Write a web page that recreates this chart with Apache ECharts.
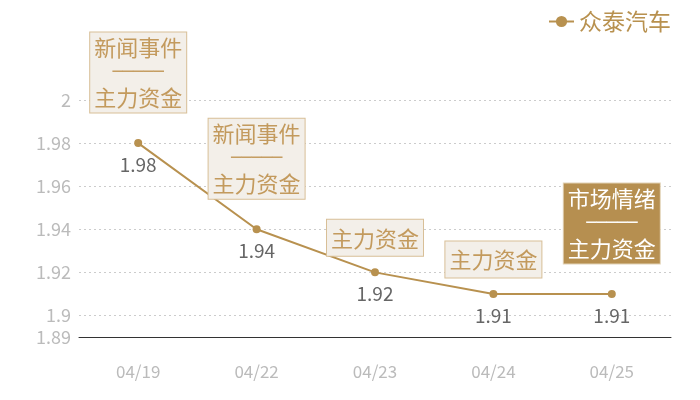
<!DOCTYPE html>
<html>
<head>
<meta charset="utf-8">
<script src="https://cdn.jsdelivr.net/npm/echarts@6/dist/echarts.min.js"></script>
<style>
  html, body { margin: 0; padding: 0; background: #fff; }
  #chart { width: 700px; height: 400px; }
</style>
</head>
<body>
<div id="chart"></div>
<script>
// data
var seriesName = '众泰汽车';
var dates = ['04/19', '04/22', '04/23', '04/24', '04/25'];
var prices = [1.98, 1.94, 1.92, 1.91, 1.91];
var notes = [
  ['新闻事件', '主力资金'],
  ['新闻事件', '主力资金'],
  ['主力资金'],
  ['主力资金'],
  ['市场情绪', '主力资金']
];
var highlightIndex = 4;
var yMin = 1.89;
var yMax = 2;

var gold = '#b8914f';
var font = 'Noto Sans CJK SC';

// build the annotation labels from the notes
var noteData = prices.map(function (p, i) {
  var dark = i === highlightIndex;
  var multi = notes[i].length > 1;
  var text = notes[i].map(function (n) { return '{t|' + n + '}'; }).join('\n{d|─────}\n');
  var txtColor = dark ? '#fff' : '#c39a5d';
  return {
    value: p,
    label: {
      show: true,
      position: 'top',
      distance: multi ? 30 : 16,
      formatter: text,
      backgroundColor: dark ? '#b68f50' : '#f3efe9',
      borderColor: dark ? '#e2d2b6' : '#d8bf97',
      borderWidth: 1,
      padding: multi ? [2, 4, 2, 4] : [5, 4, 4, 4],
      rich: {
        t: { fontFamily: font, fontSize: 22, lineHeight: multi ? 26 : 27, color: txtColor },
        d: { fontFamily: 'DejaVu Sans Mono', fontSize: 17, lineHeight: 24, color: txtColor }
      }
    }
  };
});

var chart = echarts.init(document.getElementById('chart'));

var option = {
  animation: false,
  legend: {
    data: [seriesName],
    right: 24,
    top: 5,
    itemWidth: 25,
    itemHeight: 14,
    itemGap: 6,
    textStyle: { fontFamily: font, fontSize: 23, color: gold }
  },
  grid: {
    left: 79,
    right: 29,
    top: 100,
    bottom: 63
  },
  xAxis: {
    type: 'category',
    boundaryGap: true,
    data: dates,
    axisLine: { lineStyle: { color: '#333', width: 1 } },
    axisTick: { show: false },
    axisLabel: { margin: 26, fontFamily: font, fontSize: 17, color: '#bbb' }
  },
  yAxis: {
    type: 'value',
    min: yMin,
    max: yMax,
    axisLine: { show: false },
    axisTick: { show: false },
    axisLabel: { margin: 8, fontFamily: font, fontSize: 18, color: '#bbb' },
    splitLine: { lineStyle: { color: '#ccc', type: [2, 3] } }
  },
  series: [
    {
      name: seriesName,
      type: 'line',
      data: prices,
      color: gold,
      symbol: 'circle',
      symbolSize: 8,
      lineStyle: { color: gold, width: 2 },
      label: {
        show: true,
        position: 'bottom',
        distance: 8,
        fontFamily: font,
        fontSize: 19,
        color: '#666'
      }
    },
    {
      name: 'notes',
      type: 'line',
      data: noteData,
      symbol: 'circle',
      symbolSize: 1,
      itemStyle: { color: 'transparent' },
      lineStyle: { width: 0, color: 'transparent' },
      silent: true,
      z: 5
    }
  ]
};

chart.setOption(option);
</script>
</body>
</html>
